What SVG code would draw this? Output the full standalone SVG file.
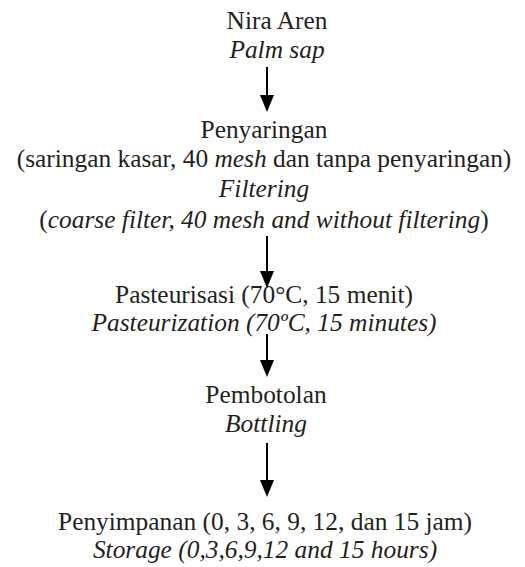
<svg xmlns="http://www.w3.org/2000/svg" width="525" height="567" viewBox="0 0 525 567">
<style>
text{font-family:"Liberation Serif","Times New Roman",serif;font-size:25.4px;fill:#231f20;text-anchor:middle}
.i{font-style:italic}
.c{stroke:#000;stroke-width:2;fill:none}
.h{fill:#000}
</style>
<rect width="525" height="567" fill="#fff"/>
<g id="n1">
<text x="277" y="29">Nira Aren</text>
<text x="277" y="58" class="i">Palm sap</text>
</g>
<g id="n2">
<text x="264" y="138">Penyaringan</text>
<text x="264" y="167">(saringan kasar, 40 <tspan class="i">mesh</tspan> dan tanpa penyaringan)</text>
<text x="264" y="197" class="i">Filtering</text>
<text x="264" y="228">(<tspan class="i">coarse filter, 40 mesh and without filtering</tspan>)</text>
</g>
<g id="n3">
<text x="264" y="303">Pasteurisasi (70°C, 15 menit)</text>
<text x="264" y="331" class="i">Pasteurization (70ºC, 15 minutes)</text>
</g>
<g id="n4">
<text x="266" y="403">Pembotolan</text>
<text x="266" y="432" class="i">Bottling</text>
</g>
<g id="n5">
<text x="265" y="530">Penyimpanan (0, 3, 6, 9, 12, dan 15 jam)</text>
<text x="265" y="558" class="i">Storage (0,3,6,9,12 and 15 hours)</text>
</g>
<g id="connectors">
<line class="c" x1="267" y1="67" x2="267" y2="96"/>
<polygon class="h" points="260,95 274,95 267,112"/>
<line class="c" x1="267" y1="236" x2="267" y2="272"/>
<polygon class="h" points="260,271 274,271 267,288"/>
<line class="c" x1="267" y1="334" x2="267" y2="361"/>
<polygon class="h" points="260,360 274,360 267,377"/>
<line class="c" x1="267" y1="443" x2="267" y2="481"/>
<polygon class="h" points="260,480 274,480 267,497"/>
</g>
</svg>
